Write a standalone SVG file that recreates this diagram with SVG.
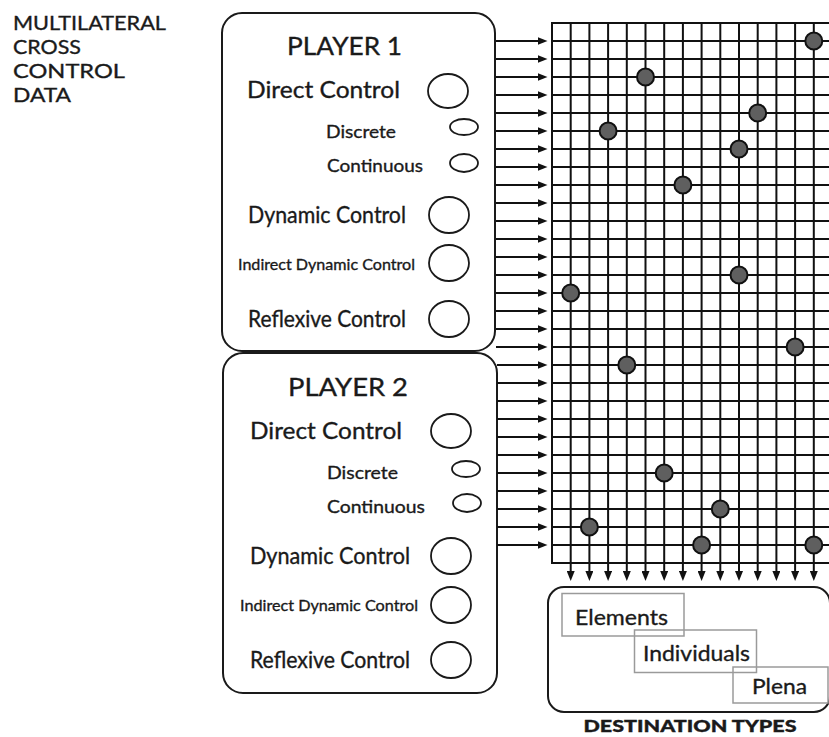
<svg xmlns="http://www.w3.org/2000/svg" width="829" height="737" viewBox="0 0 829 737">
<defs>
<style>
.t{font-family:Lato,"Liberation Sans","DejaVu Sans",sans-serif;fill:#1a1a1a;stroke:#1a1a1a;stroke-width:0.35}
.box{fill:#fff;stroke:#1a1a1a;stroke-width:2}
.o{fill:none;stroke:#1a1a1a;stroke-width:1.8}
.g{stroke:#111;stroke-width:2;fill:none}
.c{stroke:#111;stroke-width:2;fill:none;marker-end:url(#ah)}
.dot{fill:#5f5f5f;stroke:#111;stroke-width:2}
.sub{fill:none;stroke:#9a9a9a;stroke-width:1.5}
</style>
<marker id="ah" viewBox="0 0 10 8" refX="3" refY="4" markerWidth="10" markerHeight="8" markerUnits="userSpaceOnUse" orient="auto">
<path d="M0,0 L10,4 L0,8 z" fill="#111"/>
</marker>
</defs>
<rect width="829" height="737" fill="#fff"/>

<g id="title">
<text class="t" x="13" y="30" font-size="20" textLength="153" lengthAdjust="spacingAndGlyphs">MULTILATERAL</text>
<text class="t" x="13" y="54" font-size="20" textLength="68" lengthAdjust="spacingAndGlyphs">CROSS</text>
<text class="t" x="13" y="78" font-size="20" textLength="112" lengthAdjust="spacingAndGlyphs">CONTROL</text>
<text class="t" x="13" y="102" font-size="20" textLength="58" lengthAdjust="spacingAndGlyphs">DATA</text>
</g>

<g id="player1">
<rect class="box" x="222" y="13" width="273" height="338" rx="20"/>
<text class="t" x="287" y="55" font-size="25" textLength="115" lengthAdjust="spacingAndGlyphs">PLAYER 1</text>
<text class="t" x="247" y="98" font-size="23" textLength="153" lengthAdjust="spacingAndGlyphs">Direct Control</text>
<ellipse class="o" cx="448" cy="91" rx="20" ry="17"/>
<text class="t" x="326" y="138" font-size="18" textLength="70" lengthAdjust="spacingAndGlyphs">Discrete</text>
<ellipse class="o" cx="464" cy="127" rx="14" ry="8"/>
<text class="t" x="327" y="172" font-size="18" textLength="96" lengthAdjust="spacingAndGlyphs">Continuous</text>
<ellipse class="o" cx="464" cy="163" rx="14" ry="9"/>
<text class="t" x="248" y="223" font-size="23" textLength="158" lengthAdjust="spacingAndGlyphs">Dynamic Control</text>
<ellipse class="o" cx="449" cy="215" rx="20" ry="18"/>
<text class="t" x="238" y="270" font-size="16" textLength="177" lengthAdjust="spacingAndGlyphs">Indirect Dynamic Control</text>
<ellipse class="o" cx="449" cy="263" rx="20" ry="18"/>
<text class="t" x="248" y="327" font-size="23" textLength="158" lengthAdjust="spacingAndGlyphs">Reflexive Control</text>
<ellipse class="o" cx="449" cy="319" rx="20" ry="18"/>
</g>

<g id="player2">
<rect class="box" x="223" y="353" width="274" height="340" rx="20"/>
<text class="t" x="288" y="396" font-size="25" textLength="120" lengthAdjust="spacingAndGlyphs">PLAYER 2</text>
<text class="t" x="250" y="439" font-size="23" textLength="152" lengthAdjust="spacingAndGlyphs">Direct Control</text>
<ellipse class="o" cx="451" cy="431" rx="20" ry="17"/>
<text class="t" x="327" y="479" font-size="18" textLength="71" lengthAdjust="spacingAndGlyphs">Discrete</text>
<ellipse class="o" cx="466" cy="469" rx="14" ry="8"/>
<text class="t" x="327" y="513" font-size="18" textLength="98" lengthAdjust="spacingAndGlyphs">Continuous</text>
<ellipse class="o" cx="467" cy="503" rx="14" ry="9"/>
<text class="t" x="250" y="564" font-size="23" textLength="160" lengthAdjust="spacingAndGlyphs">Dynamic Control</text>
<ellipse class="o" cx="451" cy="556" rx="20" ry="18"/>
<text class="t" x="240" y="611" font-size="16" textLength="178" lengthAdjust="spacingAndGlyphs">Indirect Dynamic Control</text>
<ellipse class="o" cx="451" cy="605" rx="20" ry="18"/>
<text class="t" x="250" y="668" font-size="23" textLength="160" lengthAdjust="spacingAndGlyphs">Reflexive Control</text>
<ellipse class="o" cx="451" cy="660" rx="20" ry="18"/>
</g>

<g id="matrix">
<path class="g" d="M552,23H835 M552,41H835 M552,59H835 M552,77H835 M552,95H835 M552,113H835 M552,131H835 M552,149H835 M552,167H835 M552,185H835 M552,203H835 M552,221H835 M552,239H835 M552,257H835 M552,275H835 M552,293H835 M552,311H835 M552,329H835 M552,347H835 M552,365H835 M552,383H835 M552,401H835 M552,419H835 M552,437H835 M552,455H835 M552,473H835 M552,491H835 M552,509H835 M552,527H835 M552,545H835 M552,563H835"/>
<path class="g" d="M552,22V564 M570.7,23V563 M589.4,23V563 M608.1,23V563 M626.8,23V563 M645.5,23V563 M664.2,23V563 M682.9,23V563 M701.6,23V563 M720.3,23V563 M739,23V563 M757.7,23V563 M776.4,23V563 M795.1,23V563 M813.8,23V563"/>
<circle class="dot" cx="813.8" cy="41" r="8.5"/>
<circle class="dot" cx="645.5" cy="77" r="8.5"/>
<circle class="dot" cx="757.7" cy="113" r="8.5"/>
<circle class="dot" cx="608.1" cy="131" r="8.5"/>
<circle class="dot" cx="739" cy="149" r="8.5"/>
<circle class="dot" cx="682.9" cy="185" r="8.5"/>
<circle class="dot" cx="739" cy="275" r="8.5"/>
<circle class="dot" cx="570.7" cy="293" r="8.5"/>
<circle class="dot" cx="795.1" cy="347" r="8.5"/>
<circle class="dot" cx="626.8" cy="365" r="8.5"/>
<circle class="dot" cx="664.2" cy="473" r="8.5"/>
<circle class="dot" cx="720.3" cy="509" r="8.5"/>
<circle class="dot" cx="589.4" cy="527" r="8.5"/>
<circle class="dot" cx="701.6" cy="545" r="8.5"/>
<circle class="dot" cx="813.8" cy="545" r="8.5"/>
</g>

<g id="destination">
<rect class="box" x="548" y="587" width="282" height="125" rx="16"/>
<rect class="sub" x="562" y="593.5" width="122" height="42.5"/>
<rect class="sub" x="634.5" y="630" width="122" height="42.5"/>
<rect class="sub" x="733" y="667" width="95" height="36"/>
<text class="t" x="575" y="625" font-size="22" textLength="93" lengthAdjust="spacingAndGlyphs">Elements</text>
<text class="t" x="643" y="661" font-size="22" textLength="107" lengthAdjust="spacingAndGlyphs">Individuals</text>
<text class="t" x="752" y="693.5" font-size="22" textLength="55" lengthAdjust="spacingAndGlyphs">Plena</text>
<text class="t" x="583.5" y="732" font-size="16" font-weight="900" textLength="213" lengthAdjust="spacingAndGlyphs">DESTINATION TYPES</text>
</g>

<g id="connectors">
<path class="c" d="M496,41H540.5"/><path class="c" d="M496,59H540.5"/><path class="c" d="M496,77H540.5"/><path class="c" d="M496,95H540.5"/>
<path class="c" d="M496,113H540.5"/><path class="c" d="M496,131H540.5"/><path class="c" d="M496,149H540.5"/><path class="c" d="M496,167H540.5"/>
<path class="c" d="M496,185H540.5"/><path class="c" d="M496,203H540.5"/><path class="c" d="M496,221H540.5"/><path class="c" d="M496,239H540.5"/>
<path class="c" d="M496,257H540.5"/><path class="c" d="M496,275H540.5"/><path class="c" d="M496,293H540.5"/><path class="c" d="M496,311H540.5"/>
<path class="c" d="M496,329H540.5"/><path class="c" d="M496,347H540.5"/><path class="c" d="M497,365H540.5"/><path class="c" d="M497,383H540.5"/>
<path class="c" d="M497,401H540.5"/><path class="c" d="M497,419H540.5"/><path class="c" d="M497,437H540.5"/><path class="c" d="M497,455H540.5"/>
<path class="c" d="M497,473H540.5"/><path class="c" d="M497,491H540.5"/><path class="c" d="M497,509H540.5"/><path class="c" d="M497,527H540.5"/>
<path class="c" d="M497,545H540.5"/>
<path class="c" d="M570.7,563V574"/><path class="c" d="M589.4,563V574"/><path class="c" d="M608.1,563V574"/><path class="c" d="M626.8,563V574"/>
<path class="c" d="M645.5,563V574"/><path class="c" d="M664.2,563V574"/><path class="c" d="M682.9,563V574"/><path class="c" d="M701.6,563V574"/>
<path class="c" d="M720.3,563V574"/><path class="c" d="M739,563V574"/><path class="c" d="M757.7,563V574"/><path class="c" d="M776.4,563V574"/>
<path class="c" d="M795.1,563V574"/><path class="c" d="M813.8,563V574"/>
</g>
</svg>
